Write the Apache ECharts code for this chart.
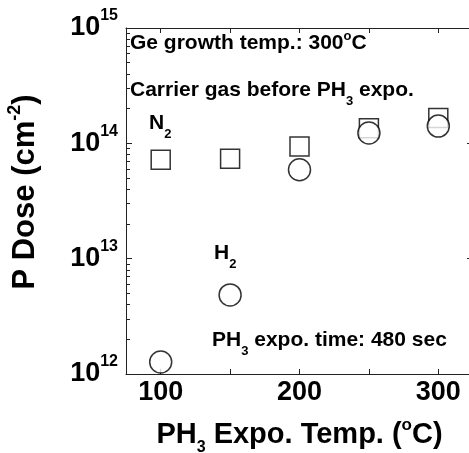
<!DOCTYPE html>
<html>
<head>
<meta charset="utf-8">
<script src="https://cdn.jsdelivr.net/npm/echarts@6/dist/echarts.min.js"></script>
<style>
  html, body { margin: 0; padding: 0; background: #fff; }
  #chart { width: 469px; height: 453px; }
</style>
</head>
<body>
<div id="chart"></div>
<script>
var FONT = '"Liberation Sans", Arial, sans-serif';

// data
var temps = [100, 150, 200, 250, 300];
var n2Dose = [7.2e13, 7.35e13, 9.4e13, 1.35e14, 1.66e14];
var h2Dose = [1.27e12, 4.85e12, 5.9e13, 1.23e14, 1.41e14];

var xTicks = [100, 150, 200, 250, 300];
var xLabels = [100, 200, 300];

// minor log ticks (2..9 in each decade), as log10 positions
var minorTicks = [];
for (var d = 12; d < 15; d++) {
    for (var k = 2; k <= 9; k++) minorTicks.push(d + Math.log10(k));
}

var chart = echarts.init(document.getElementById('chart'));

var lineStyle = {color: '#222', width: 1};

function note(left, top, text) {
    return {
        type: 'text', left: left, top: top,
        style: {
            text: text,
            rich: {
                a: {fontFamily: FONT, fontWeight: 'bold', fontSize: 21, fill: '#000'},
                sub: {fontFamily: FONT, fontWeight: 'bold', fontSize: 13, fill: '#000', padding: [22, 0, 0, 0]},
                sup: {fontFamily: FONT, fontWeight: 'bold', fontSize: 13, fill: '#000', padding: [0, 0, 14, 0]}
            }
        }
    };
}

chart.setOption({
    animation: false,
    backgroundColor: '#fff',
    grid: {left: 126, top: 28, width: 347, height: 346, outerBoundsMode: 'none'},
    xAxis: [
        {
            type: 'value', position: 'bottom', min: 75, max: 325,
            axisLine: {show: true, lineStyle: lineStyle},
            axisTick: {inside: true, length: 5, customValues: xTicks, lineStyle: lineStyle},
            axisLabel: {customValues: xLabels, margin: 5, color: '#000',
                fontFamily: FONT, fontWeight: 'bold', fontSize: 27},
            splitLine: {show: false},
            name: '{a|PH}{sub|3}{a| Expo. Temp. (}{sup|o}{a|C)}',
            nameLocation: 'middle', nameGap: 40,
            nameTextStyle: {
                rich: {
                    a: {fontFamily: FONT, fontWeight: 'bold', fontSize: 29, color: '#000', lineHeight: 30},
                    sub: {fontFamily: FONT, fontWeight: 'bold', fontSize: 16, color: '#000', padding: [26, 0, 0, 0]},
                    sup: {fontFamily: FONT, fontWeight: 'bold', fontSize: 17, color: '#000', padding: [0, 0, 20, 0]}
                }
            }
        },
        {
            type: 'value', position: 'top', min: 75, max: 325,
            axisLine: {show: true, lineStyle: lineStyle},
            axisTick: {inside: true, length: 5, customValues: xTicks, lineStyle: lineStyle},
            axisLabel: {show: false},
            splitLine: {show: false}
        }
    ],
    yAxis: [
        {
            type: 'log', logBase: 10, min: 1e12, max: 1e15, position: 'left',
            axisLine: {show: true, lineStyle: lineStyle},
            axisTick: {inside: true, length: 6, lineStyle: lineStyle},
            axisLabel: {
                margin: 8, color: '#000',
                formatter: function (v) {
                    return '{b|10}{sup|' + Math.round(Math.log10(v)) + '}';
                },
                rich: {
                    b: {fontFamily: FONT, fontWeight: 'bold', fontSize: 27, lineHeight: 27, color: '#000'},
                    sup: {fontFamily: FONT, fontWeight: 'bold', fontSize: 16, lineHeight: 16, color: '#000', padding: [0, 0, 24, 0]}
                }
            },
            splitLine: {show: false},
            name: '{a|P Dose (cm}{sup|-2}{a|)}',
            nameLocation: 'middle', nameRotate: 90, nameGap: 82,
            nameTextStyle: {
                padding: [0, 0, 0, 18],
                rich: {
                    a: {fontFamily: FONT, fontWeight: 'bold', fontSize: 31, color: '#000', lineHeight: 32},
                    sup: {fontFamily: FONT, fontWeight: 'bold', fontSize: 18, color: '#000', padding: [0, 0, 20, 0]}
                }
            }
        },
        {
            type: 'value', min: 12, max: 15, position: 'left',
            axisLine: {show: false},
            axisTick: {inside: true, length: 4, customValues: minorTicks, lineStyle: lineStyle},
            axisLabel: {show: false},
            splitLine: {show: false}
        },
        {
            type: 'log', logBase: 10, min: 1e12, max: 1e15, position: 'right',
            axisLine: {show: true, lineStyle: lineStyle},
            axisTick: {inside: true, length: 6, lineStyle: lineStyle},
            axisLabel: {show: false},
            splitLine: {show: false}
        }
    ],
    graphic: [
        note(130, 30, '{a|Ge growth temp.: 300}{sup|o}{a|C}'),
        note(130, 80, '{a|Carrier gas before PH}{sub|3}{a| expo.}'),
        note(149, 113, '{a|N}{sub|2}'),
        note(214, 243, '{a|H}{sub|2}'),
        note(212, 330, '{a|PH}{sub|3}{a| expo. time: 480 sec}')
    ],
    series: [
        {
            name: 'N2', type: 'scatter', xAxisIndex: 0, yAxisIndex: 0,
            symbol: 'rect', symbolSize: 19,
            itemStyle: {color: '#fff', borderColor: '#000', borderWidth: 1.5},
            data: temps.map(function (t, i) { return [t, n2Dose[i]]; }),
            z: 2
        },
        {
            name: 'H2', type: 'scatter', xAxisIndex: 0, yAxisIndex: 0,
            symbol: 'circle', symbolSize: 22,
            itemStyle: {color: '#fff', borderColor: '#000', borderWidth: 1.5},
            data: temps.map(function (t, i) { return [t, h2Dose[i]]; }),
            z: 3
        }
    ]
});
</script>
</body>
</html>
